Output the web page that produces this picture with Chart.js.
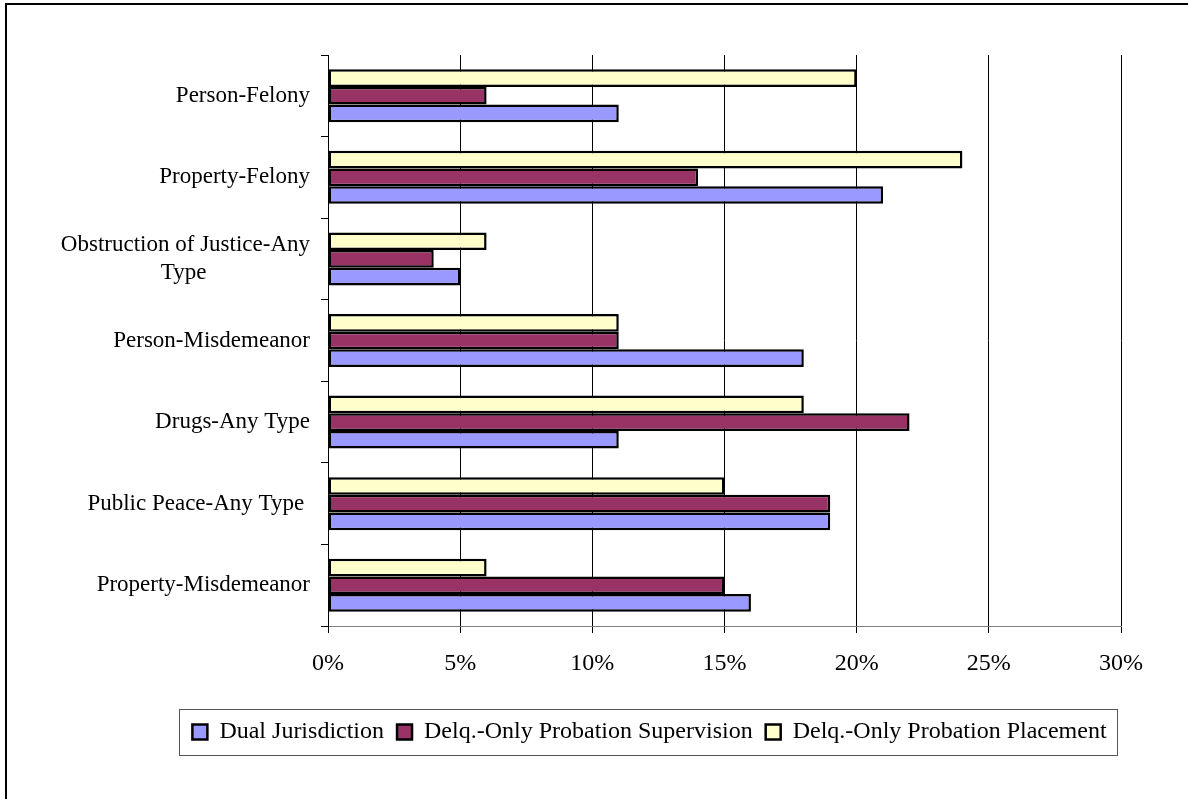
<!DOCTYPE html>
<html>
<head>
<meta charset="utf-8">
<script src="https://cdn.jsdelivr.net/npm/chart.js@4"></script>
<style>
  html, body { margin: 0; padding: 0; background: #fff; overflow: hidden; }
  #frame {
    position: absolute; left: 5px; top: 3px; width: 1300px; height: 900px;
    border-left: 2px solid #000; border-top: 2px solid #000; pointer-events: none;
  }
  #offenseChart { position: absolute; left: 0; top: 0; }
</style>
</head>
<body>
<canvas id="offenseChart" width="1188" height="799"></canvas>
<div id="frame"></div>
<script>
  const NB = '\u00a0'
  const categories = [
    'Person-Felony',
    'Property-Felony',
    ['Obstruction of Justice-Any', 'Type' + NB.repeat(18)],
    'Person-Misdemeanor',
    'Drugs-Any Type',
    'Public Peace-Any Type ',
    'Property-Misdemeanor'
  ]
  // percent of youth
  const dualJurisdiction = [11, 21, 5, 18, 11, 19, 16]
  const probationSupervision = [6, 14, 4, 11, 22, 19, 15]
  const probationPlacement = [20, 24, 6, 11, 18, 15, 6]
  const xTicks = [0, 5, 10, 15, 20, 25, 30]

  const fam = '"Liberation Serif", "Times New Roman", serif'

  // Excel style box round the legend, and legend centred under the plot like the original
  const legendBox = {
    id: 'legendBox',
    afterLayout(chart) {
      const lg = chart.legend
      const shift = 60
      lg.left += shift
      lg.right += shift
    },
    afterDraw(chart) {
      const boxes = chart.legend.legendHitBoxes
      if (!boxes || !boxes.length) return
      const left = Math.min(...boxes.map(b => b.left))
      const right = Math.max(...boxes.map(b => b.left + b.width))
      const mid = boxes[0].top + boxes[0].height / 2
      const ctx = chart.ctx
      ctx.save()
      ctx.strokeStyle = '#555'
      ctx.lineWidth = 1
      ctx.strokeRect(Math.round(left - 13) + 0.5, Math.round(mid - 23) + 0.5, Math.round(right - left + 24), 46)
      ctx.restore()
    }
  }

  new Chart(
    document.getElementById('offenseChart'),
    {
      type: 'bar',
      data: {
        labels: categories,
        datasets: [
          {
            label: 'Delq.-Only Probation Placement',
            data: probationPlacement,
            backgroundColor: '#FFFFCC'
          },
          {
            label: 'Delq.-Only Probation Supervision',
            data: probationSupervision,
            backgroundColor: '#993366'
          },
          {
            label: 'Dual Jurisdiction',
            data: dualJurisdiction,
            backgroundColor: '#9999FF'
          }
        ]
      },
      options: {
        indexAxis: 'y',
        responsive: false,
        animation: false,
        events: [],
        elements: {
          bar: {
            borderColor: '#000',
            borderWidth: 2.5,
            borderSkipped: false
          }
        },
        datasets: {
          bar: { categoryPercentage: 0.65, barPercentage: 1.0 }
        },
        layout: {
          padding: { left: 58, right: 67, top: 55, bottom: 45 }
        },
        scales: {
          x: {
            min: 0,
            max: 30,
            afterBuildTicks: scale => { scale.ticks = xTicks.map(v => ({ value: v })) },
            afterFit: scale => { scale.height = 81 },
            ticks: {
              callback: v => v + '%',
              font: { family: fam, size: 24 },
              color: '#000',
              padding: 16,
              maxRotation: 0
            },
            grid: { color: '#000', lineWidth: 1, tickLength: 7, tickColor: '#000' },
            border: { color: '#808080', width: 1 }
          },
          y: {
            afterFit: scale => { scale.width = 270 },
            ticks: { font: { family: fam, size: 23 }, color: '#000', padding: 11 },
            grid: { drawOnChartArea: false, tickLength: 7, color: '#000' },
            border: { color: '#000', width: 1 }
          }
        },
        plugins: {
          tooltip: { enabled: false },
          title: { display: false },
          legend: {
            position: 'bottom',
            reverse: true,
            labels: {
              font: { family: fam, size: 24 },
              color: '#000',
              boxWidth: 15,
              boxHeight: 15,
              padding: 13
            }
          }
        }
      },
      plugins: [legendBox]
    }
  );
</script>
</body>
</html>
